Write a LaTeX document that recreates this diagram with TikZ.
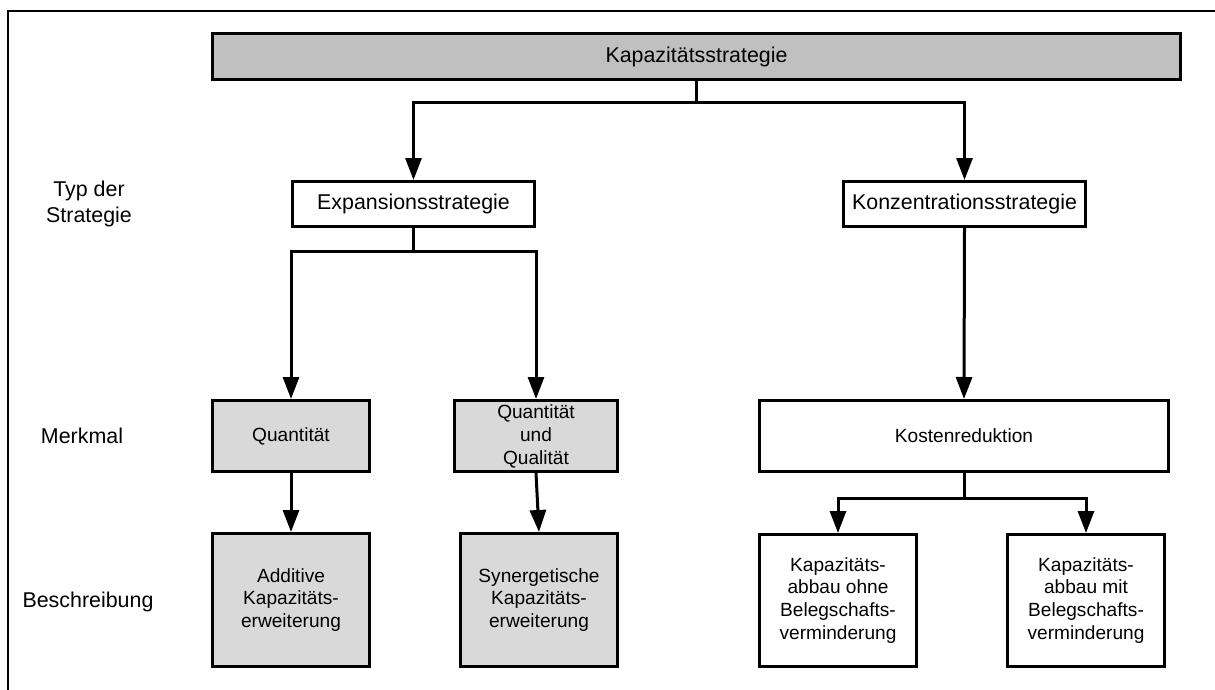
\documentclass[tikz,border=0pt]{standalone}
\usepackage{fontspec}
\setmainfont{Liberation Sans}
\usetikzlibrary{arrows.meta}
\definecolor{headgray}{HTML}{C0C0C0}
\definecolor{boxgray}{HTML}{D9D9D9}
\begin{document}
\begin{tikzpicture}[x=1pt,y=-1pt,
  bigtext/.style={font=\fontsize{21.4}{25.5}\selectfont},
  smalltext/.style={font=\fontsize{19.1}{22.9}\selectfont},
  box/.style={draw,line width=3pt,inner sep=0pt,align=center,anchor=center},
  conn/.style={line width=3pt},
  arr/.style={line width=3pt,-{Triangle[length=22pt,width=16pt]}},
  label/.style={bigtext,align=center,anchor=center}]
\useasboundingbox (0,0) rectangle (1215,690);

% outer frame
\draw[line width=2.2pt] (8,695) -- (8,11) -- (1220,11);

% boxes
\node[box,bigtext,fill=headgray,minimum width=968pt,minimum height=46pt] (top) at (696.5,56.5) {Kapazitätsstrategie};
\node[box,bigtext,minimum width=242pt,minimum height=45pt] (exp) at (413.5,204) {Expansionsstrategie};
\node[box,bigtext,minimum width=242pt,minimum height=45pt] (konz) at (964.5,204) {Konzentrationsstrategie};

\node[box,smalltext,fill=boxgray,minimum width=157pt,minimum height=71pt] (quant) at (291,436) {Quantität};
\node[box,smalltext,fill=boxgray,minimum width=163pt,minimum height=71pt] (qq) at (536,436) {Quantität\\und\\Qualität};
\node[box,smalltext,fill=boxgray,minimum width=157pt,minimum height=133pt] (add) at (291,600) {Additive\\Kapazitäts-\\erweiterung};
\node[box,smalltext,fill=boxgray,minimum width=157pt,minimum height=133pt] (syn) at (539,600) {Synergetische\\Kapazitäts-\\erweiterung};

\node[box,smalltext,minimum width=409pt,minimum height=71pt] (kost) at (964,436) {Kostenreduktion};
\node[box,smalltext,minimum width=157pt,minimum height=132pt] (ohne) at (838,600.5) {Kapazitäts-\\abbau ohne\\Belegschafts-\\verminderung};
\node[box,smalltext,minimum width=157pt,minimum height=132pt] (mit) at (1086,600.5) {Kapazitäts-\\abbau mit\\Belegschafts-\\verminderung};

% row labels
\node[label] (typ) at (89,204) {Typ der\\Strategie};
\node[label] (merkmal) at (82,436) {Merkmal};
\node[label] (beschr) at (88,602) {Beschreibung};

% connectors
\path (top.south) ++(0,22) coordinate (j1);
\draw[conn] (top.south) -- (j1);
\draw[arr] (j1) -| (exp.north);
\draw[arr] (j1) -| (konz.north);

\path (exp.south) ++(0,23) coordinate (j2);
\draw[conn] (exp.south) -- (j2);
\draw[arr] (j2) -| (quant.north);
\draw[arr] (j2) -| (qq.north);

\draw[arr] (quant.south) -- (add.north);
\draw[arr] (qq.south) -- (syn.north);

\draw[arr] (konz.south) -- (kost.north);

\path (kost.south) ++(0,25) coordinate (j3);
\draw[conn] (kost.south) -- (j3);
\draw[arr] (j3) -| (ohne.north);
\draw[arr] (j3) -| (mit.north);
\end{tikzpicture}
\end{document}
